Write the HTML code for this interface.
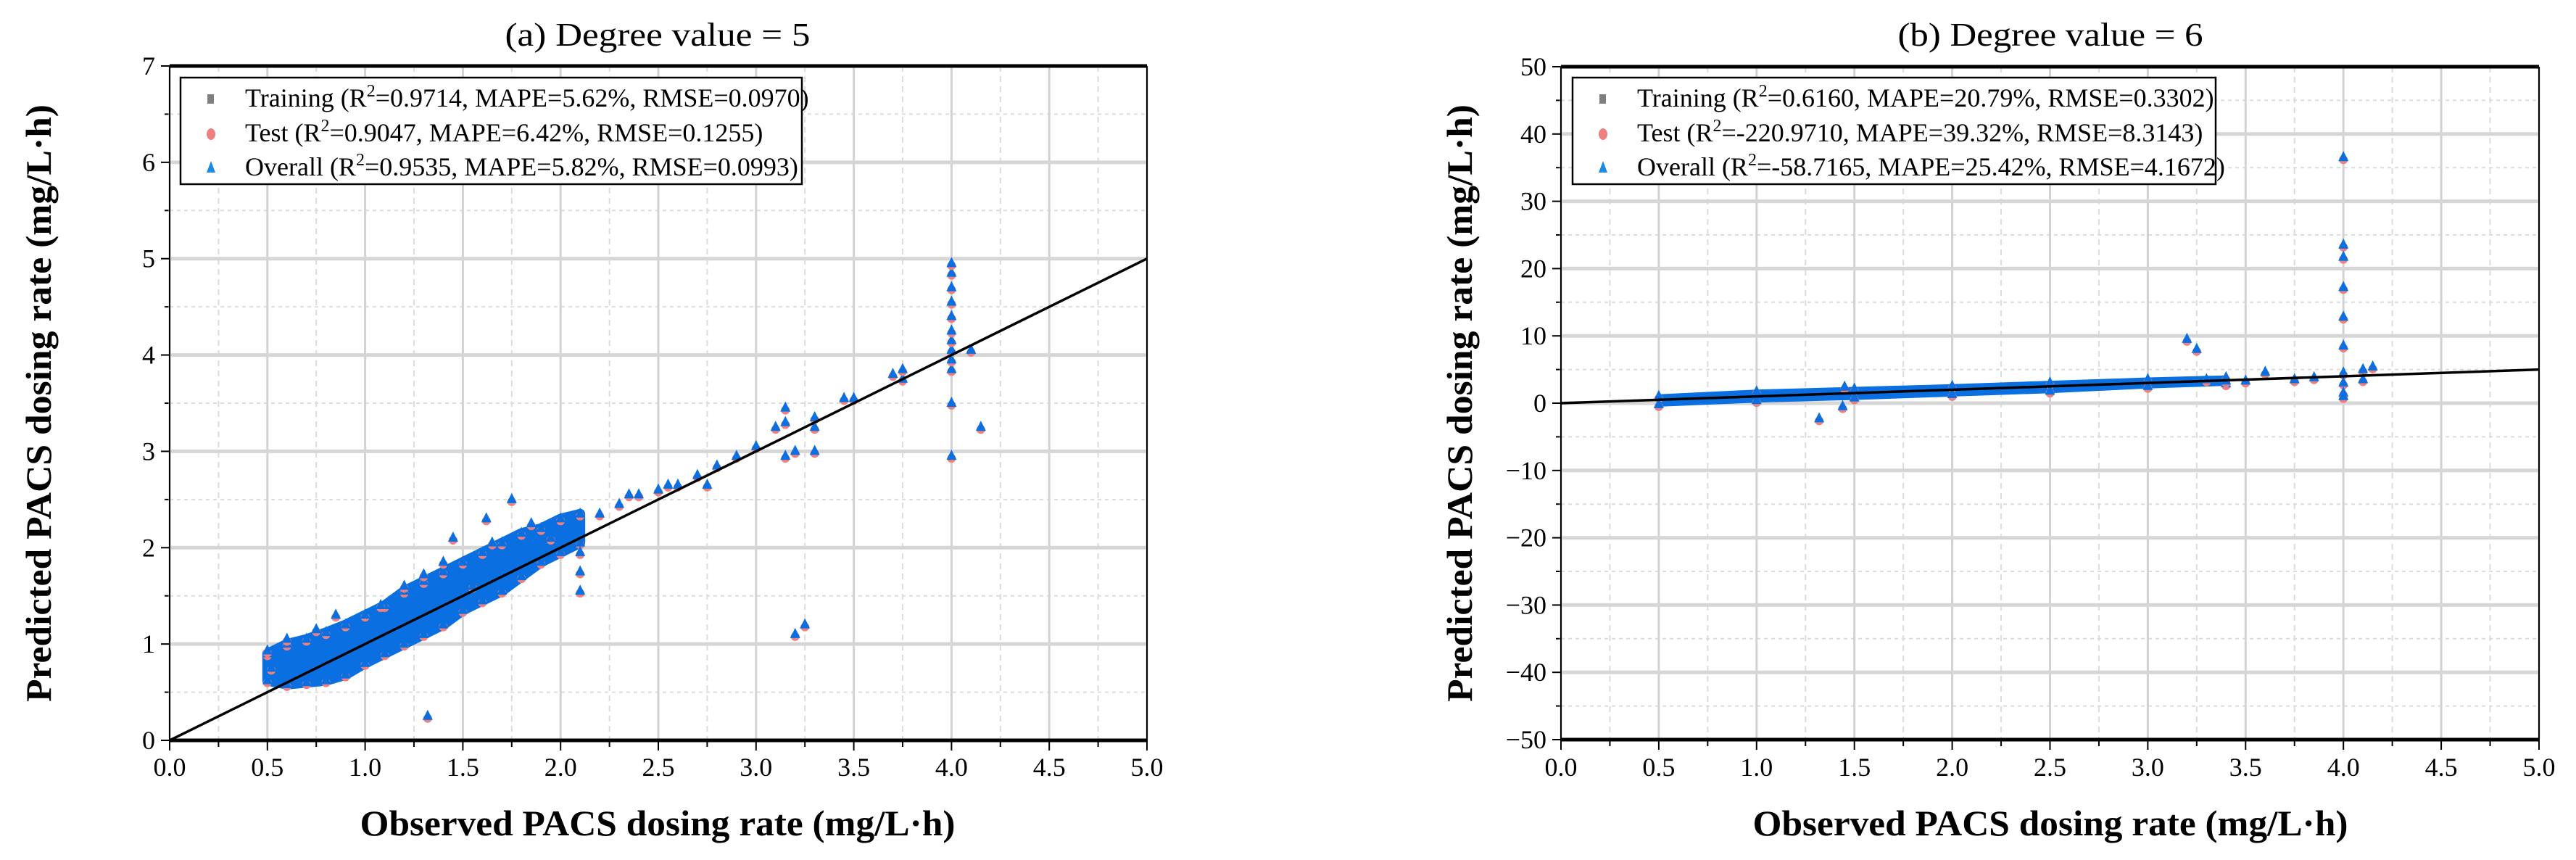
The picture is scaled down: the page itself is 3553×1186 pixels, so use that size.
<!DOCTYPE html>
<html><head><meta charset="utf-8"><style>
html,body{margin:0;padding:0;background:#fff;}
svg{display:block;font-family:"Liberation Serif",serif;}
</style></head><body>
<svg id="fig" width="3553" height="1186" viewBox="0 0 3553 1186" xmlns="http://www.w3.org/2000/svg"></svg>
<script>
// ---- Data (panel a) ----
const aBandX = [0.5,0.6,0.7,0.8,0.9,1.0,1.1,1.2,1.3,1.4,1.5,1.6,1.7,1.8,1.9,2.0,2.1];
const aBandLow = [0.62,0.58,0.6,0.62,0.68,0.8,0.9,1.0,1.1,1.2,1.35,1.45,1.55,1.7,1.85,1.95,2.05];
const aBandHigh = [0.9,1.0,1.05,1.12,1.2,1.3,1.4,1.55,1.65,1.75,1.85,1.95,2.05,2.15,2.2,2.3,2.35];
const aPtsX = [0.5,0.52,0.6,0.75,0.85,1.08,1.2,1.3,1.32,1.4,1.45,1.55,1.62,1.65,1.75,1.85,1.95,2.1,2.1,2.1,2.2,2.3,2.35,2.4,2.5,2.55,2.6,2.7,2.75,2.8,2.9,3.0,3.1,3.15,3.15,3.15,3.2,3.3,3.3,3.3,3.45,3.5,3.7,3.75,3.75,4.0,4.0,4.0,4.0,4.0,4.0,4.0,4.0,4.0,4.0,4.0,4.0,4.1,4.15,3.2,3.25];
const aPtsY = [0.93,0.75,1.05,1.15,1.3,1.4,1.6,1.72,0.25,1.85,2.1,1.6,2.3,2.05,2.5,2.25,2.1,1.55,1.75,1.95,2.35,2.45,2.55,2.55,2.6,2.65,2.65,2.75,2.65,2.85,2.95,3.05,3.25,2.95,3.3,3.45,3.0,3.0,3.25,3.35,3.55,3.55,3.8,3.75,3.85,3.85,3.95,4.05,4.15,4.25,4.4,4.55,4.7,4.85,4.95,3.5,2.95,4.05,3.25,1.1,1.2];
// ---- Data (panel b) ----
const bBandX = [0.5,1.0,1.5,2.0,2.5,3.0,3.4];
const bBandLow = [-0.2,0.4,0.8,1.3,1.8,2.5,2.9];
const bBandHigh = [1.0,1.7,2.1,2.5,3.0,3.5,3.8];
const bPtsX = [1.32,1.44,1.45,3.2,3.25,3.6,3.75,3.85,4.0,4.0,4.0,4.0,4.0,4.0,4.0,4.0,4.0,4.0,4.1,4.15,4.1,3.4,3.5,3.3];
const bPtsY = [-2.3,-0.5,2.4,9.5,8.0,4.6,3.5,3.8,36.5,23.5,21.7,17.2,12.8,8.5,4.5,3.0,1.5,1.0,5.0,5.4,3.5,3.3,3.3,3.5];
const xTicks = ["0.0","0.5","1.0","1.5","2.0","2.5","3.0","3.5","4.0","4.5","5.0"];
const aYTicks = ["0","1","2","3","4","5","6","7"];
const bYTicks = ["−50","−40","−30","−20","−10","0","10","20","30","40","50"];
const aLegend = ["Training (R|2|=0.9714, MAPE=5.62%, RMSE=0.0970)","Test (R|2|=0.9047, MAPE=6.42%, RMSE=0.1255)","Overall (R|2|=0.9535, MAPE=5.82%, RMSE=0.0993)"];
const bLegend = ["Training (R|2|=0.6160, MAPE=20.79%, RMSE=0.3302)","Test (R|2|=-220.9710, MAPE=39.32%, RMSE=8.3143)","Overall (R|2|=-58.7165, MAPE=25.42%, RMSE=4.1672)"];

const NS="http://www.w3.org/2000/svg";
const svg=document.getElementById('fig');
function mk(tag,attrs,parent){const e=document.createElementNS(NS,tag);for(const k in attrs)e.setAttribute(k,attrs[k]);(parent||svg).appendChild(e);return e;}
const BLUE="#0a6fe0";

function panel(cfg){
  const g=mk('g',{});
  
  
  const sx=v=>cfg.x0+(v-0)/5*(cfg.x1-cfg.x0);
  const sy=v=>cfg.yb+(v-cfg.ymin)/(cfg.ymax-cfg.ymin)*(cfg.yt-cfg.yb);
  for(let i=0;i<=20;i++){const v=i*0.25; if(i%2===0) continue;
    const l=mk('line',{x1:sx(v),x2:sx(v),y1:cfg.yt,y2:cfg.yb,stroke:'#dcdcdc','stroke-width':2,'stroke-dasharray':'8 6'},g);
     }
  const ns=cfg.yTicks.length-1, step=(cfg.ymax-cfg.ymin)/ns;
  for(let i=0;i<ns;i++){const v=cfg.ymin+(i+0.5)*step;
    const l=mk('line',{x1:cfg.x0,x2:cfg.x1,y1:sy(v),y2:sy(v),stroke:'#dcdcdc','stroke-width':2,'stroke-dasharray':'5 5'},g);
     
    mk('line',{x1:cfg.x0-7,x2:cfg.x0,y1:sy(v),y2:sy(v),stroke:'#000','stroke-width':2},g);}
  xTicks.forEach((t,i)=>{const v=i*0.5;
    const l=mk('line',{x1:sx(v),x2:sx(v),y1:cfg.yt,y2:cfg.yb,stroke:'#d2d2d2','stroke-width':3},g);
     
    mk('line',{x1:sx(v),x2:sx(v),y1:cfg.yb,y2:cfg.yb+14,stroke:'#000','stroke-width':2},g);
    if(i<10) mk('line',{x1:sx(v+0.25),x2:sx(v+0.25),y1:cfg.yb,y2:cfg.yb+9,stroke:'#000','stroke-width':2},g);
    const tx=mk('text',{x:sx(v),y:1070,'font-size':36,'text-anchor':'middle'},g);tx.textContent=t;
     
  });
  cfg.yTicks.forEach((t,i)=>{const v=cfg.ymin+i*step;
    const l=mk('line',{x1:cfg.x0,x2:cfg.x1,y1:sy(v),y2:sy(v),stroke:'#d6d6d6','stroke-width':5},g);
     
    mk('line',{x1:cfg.x0-12,x2:cfg.x0,y1:sy(v),y2:sy(v),stroke:'#000','stroke-width':2},g);
    const tx=mk('text',{x:cfg.x0-20,y:sy(v)+12,'font-size':36,'text-anchor':'end'},g);tx.textContent=t;
     
  });
  let pts=cfg.bx.map((x,i)=>sx(x)+','+sy(cfg.bh[i]));
  pts=pts.concat(cfg.bx.map((x,i)=>sx(x)+','+sy(cfg.bl[i])).reverse());
  const band=mk('polygon',{points:pts.join(' '),fill:BLUE,stroke:BLUE,'stroke-width':cfg.bandStroke,'stroke-linejoin':'round'},g);
   
  function marker(x,y){const cx=sx(x),cy=sy(y);
    mk('circle',{cx:cx,cy:cy+3,r:6,fill:'#f08080'},g);
    const t=mk('polygon',{points:`${cx},${cy-9} ${cx-7},${cy+5} ${cx+7},${cy+5}`,fill:BLUE},g);
     }
  cfg.bx.forEach((x,i)=>{marker(x,cfg.bh[i]);marker(x,cfg.bl[i]);});
  cfg.px.forEach((x,i)=>marker(x,cfg.py[i]));
  const d=mk('line',{x1:sx(0),y1:sy(0),x2:sx(5),y2:sy(5),stroke:'#000','stroke-width':3.5},g);
   
  mk('line',{x1:cfg.x0,x2:cfg.x1,y1:cfg.yt,y2:cfg.yt,stroke:'#000','stroke-width':5},g);
  mk('line',{x1:cfg.x0,x2:cfg.x1,y1:cfg.yb,y2:cfg.yb,stroke:'#000','stroke-width':5},g);
  mk('line',{x1:cfg.x0,x2:cfg.x0,y1:cfg.yt,y2:cfg.yb,stroke:'#000','stroke-width':2},g);
  mk('line',{x1:cfg.x1,x2:cfg.x1,y1:cfg.yt,y2:cfg.yb,stroke:'#000','stroke-width':2},g);
  const lg=mk('g',{},g);
   
  mk('rect',{x:cfg.lx,y:107,width:cfg.lw,height:147,fill:'#fff',stroke:'#000','stroke-width':2.5},lg);
  const ys=[135,183,230];
  mk('rect',{x:cfg.lx+37,y:ys[0]-5,width:9,height:13,fill:'#808080'},lg);
  mk('ellipse',{cx:cfg.lx+42,cy:ys[1]+2,rx:6,ry:8,fill:'#f08080'},lg);
  mk('polygon',{points:`${cfg.lx+42},${ys[2]-8} ${cfg.lx+36},${ys[2]+8} ${cfg.lx+48},${ys[2]+8}`,fill:'#1e88e5'},lg);
  cfg.legend.forEach((s,i)=>{const p=s.split('|');
    const t=mk('text',{x:cfg.lx+89,y:ys[i]+12,'font-size':36},lg);
     
    const a=mk('tspan',{},t);a.textContent=p[0];
    const b=mk('tspan',{dy:-14,'font-size':24},t);b.textContent=p[1];
    const c=mk('tspan',{dy:14},t);c.textContent=p[2];});
  const tt=mk('text',{x:cfg.tx,y:63,'font-size':46,'text-anchor':'middle',textLength:421,lengthAdjust:'spacingAndGlyphs'},g);tt.textContent=cfg.title;
   
  const xt=mk('text',{x:cfg.tx,y:1152,'font-size':50,'font-weight':'bold','text-anchor':'middle',textLength:821,lengthAdjust:'spacingAndGlyphs'},g);xt.textContent='Observed PACS dosing rate (mg/L·h)';
   
  const yt=mk('text',{x:0,y:0,'font-size':50,'font-weight':'bold','text-anchor':'middle',textLength:824,lengthAdjust:'spacingAndGlyphs',transform:`translate(${cfg.ytx},556) rotate(-90)`},g);yt.textContent='Predicted PACS dosing rate (mg/L·h)';
   
}
panel({id:'a',x0:234,x1:1582,yt:91,yb:1021,ymin:0,ymax:7,yTicks:aYTicks,bx:aBandX,bl:aBandLow,bh:aBandHigh,px:aPtsX,py:aPtsY,lx:249,lw:857,legend:aLegend,title:'(a) Degree value = 5',tx:907,ytx:70,bandStroke:14});
panel({id:'b',x0:2153,x1:3502,yt:92,yb:1020,ymin:-50,ymax:50,yTicks:bYTicks,bx:bBandX,bl:bBandLow,bh:bBandHigh,px:bPtsX,py:bPtsY,lx:2169,lw:887,legend:bLegend,title:'(b) Degree value = 6',tx:2828,ytx:2030,bandStroke:6});
</script>
</body></html>
